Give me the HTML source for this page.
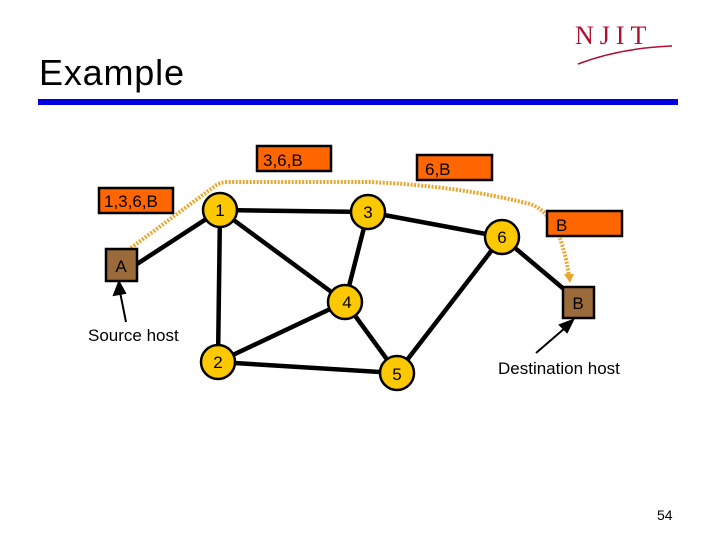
<!DOCTYPE html>
<html><head><style>
body{margin:0;width:720px;height:540px;background:#fff;overflow:hidden;font-family:"Liberation Sans",sans-serif;}
</style></head><body>
<svg width="720" height="540" xmlns="http://www.w3.org/2000/svg" font-family="Liberation Sans, sans-serif">
<text x="39" y="85" font-size="36" fill="#000" textLength="145">Example</text>
<rect x="38" y="99" width="640" height="6" fill="#0000e0"/>
<text x="575" y="44" font-size="26" fill="#b01030" font-family="Liberation Serif, serif" letter-spacing="6">NJIT</text>
<path d="M578 64 Q620 48 672 46" stroke="#b01030" stroke-width="1.5" fill="none"/>
<g stroke="#000" stroke-width="4.5" fill="none">
<line x1="137" y1="264" x2="220" y2="210"/>
<line x1="220" y1="210" x2="368" y2="212"/>
<line x1="220" y1="210" x2="218" y2="362"/>
<line x1="220" y1="210" x2="345" y2="302"/>
<line x1="368" y1="212" x2="345" y2="302"/>
<line x1="368" y1="212" x2="502" y2="237"/>
<line x1="345" y1="302" x2="218" y2="362"/>
<line x1="345" y1="302" x2="397" y2="373"/>
<line x1="218" y1="362" x2="397" y2="373"/>
<line x1="397" y1="373" x2="502" y2="237"/>
<line x1="502" y1="237" x2="565" y2="290"/>
</g>
<path d="M128 250 L215 186 Q220 182 228 182 L370 182 Q460 186 530 204 Q560 214 569 276" stroke="#e8a830" stroke-width="4" stroke-dasharray="2,1.5" fill="none"/>
<polygon points="564,274 574,274 570,283" fill="#e8a830"/>
<g stroke="#000" stroke-width="2.5" fill="#fcc800">
<circle cx="220" cy="210" r="17"/><circle cx="368" cy="212" r="17"/>
<circle cx="345" cy="302" r="17"/><circle cx="218" cy="362" r="17"/>
<circle cx="397" cy="373" r="17"/><circle cx="502" cy="237" r="17"/>
</g>
<g font-size="17" text-anchor="middle" fill="#000">
<text x="220" y="216">1</text><text x="368" y="218">3</text><text x="347" y="308">4</text>
<text x="218" y="368">2</text><text x="397" y="380">5</text><text x="502" y="243">6</text>
</g>
<g stroke="#000" stroke-width="2.5" fill="#9a6a3a">
<rect x="106" y="249" width="31" height="32"/><rect x="563" y="287" width="31" height="31"/>
</g>
<text x="121" y="272" font-size="17" text-anchor="middle">A</text>
<text x="578" y="309" font-size="17" text-anchor="middle">B</text>
<g stroke="#000" stroke-width="2.5" fill="#ff6600">
<rect x="99" y="188" width="74" height="25"/><rect x="257" y="146" width="74" height="25"/>
<rect x="417" y="155" width="75" height="25"/><rect x="547" y="211" width="75" height="25"/>
</g>
<g font-size="17" fill="#000">
<text x="104" y="207">1,3,6,B</text><text x="263" y="166">3,6,B</text>
<text x="425" y="175">6,B</text><text x="556" y="231">B</text>
<text x="88" y="341">Source host</text><text x="498" y="374">Destination host</text>
</g>
<g stroke="#000" stroke-width="2" fill="#000">
<line x1="126" y1="322" x2="120" y2="292"/>
<polygon points="119,282 114,295 125,293"/>
<line x1="536" y1="353" x2="565" y2="328"/>
<polygon points="573,320 560,325 567,332"/>
</g>
<text x="657" y="520" font-size="14" fill="#000">54</text>
</svg>
</body></html>
